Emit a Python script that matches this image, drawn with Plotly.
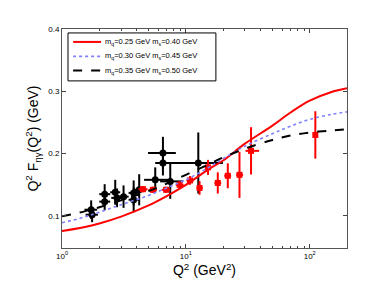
import plotly.graph_objects as go

# Model curves
curve_x = [1, 1.5, 2, 3, 5, 7, 10, 15, 20, 30, 50, 70, 100, 150, 200]
red_curve = [0.076, 0.082, 0.088, 0.099, 0.117, 0.132, 0.150, 0.174, 0.189, 0.216, 0.245, 0.266, 0.285, 0.299, 0.305]
blue_curve = [0.089, 0.098, 0.106, 0.118, 0.133, 0.145, 0.158, 0.177, 0.192, 0.212, 0.232, 0.244, 0.255, 0.263, 0.267]
black_curve = [0.0995, 0.107, 0.114, 0.125, 0.140, 0.152, 0.166, 0.182, 0.194, 0.208, 0.222, 0.229, 0.234, 0.237, 0.239]

legend_names = [
    "m<sub>q</sub>=0.25 GeV m<sub>s</sub>=0.40 GeV",
    "m<sub>q</sub>=0.30 GeV m<sub>s</sub>=0.45 GeV",
    "m<sub>q</sub>=0.35 GeV m<sub>s</sub>=0.50 GeV",
]

# Black data points
blk_x = [1.72, 1.75, 2.21, 2.21, 2.69, 2.78, 3.14, 3.79, 3.79, 4.2, 5.66, 6.53, 6.53, 7.48, 12.6]
blk_y = [0.110, 0.102, 0.135, 0.123, 0.138, 0.129, 0.131, 0.137, 0.126, 0.142, 0.158, 0.201, 0.185, 0.1555, 0.185]
blk_yerr = [0.015, 0.012, 0.016, 0.014, 0.020, 0.015, 0.018, 0.020, 0.020, 0.025, 0.020, 0.026, 0.020, 0.028, 0.049]
blk_xlo = [1.52, 1.55, 2.0, 2.0, 2.45, 2.5, 2.9, 3.45, 3.45, 3.8, 4.6, 4.95, 5.8, 6.2, 5.66]
blk_xhi = [1.92, 1.95, 2.45, 2.45, 2.95, 3.05, 3.45, 4.2, 4.2, 4.8, 7.2, 8.3, 7.4, 9.5, 19.9]

# Red data points
red_x = [4.5, 5.42, 6.93, 8.9, 10.8, 12.9, 15.1, 18.1, 21.8, 27.1, 33.6, 111]
red_y = [0.143, 0.142, 0.142, 0.150, 0.157, 0.145, 0.178, 0.153, 0.1645, 0.166, 0.2045, 0.230]
red_yerr = [0.005, 0.005, 0.005, 0.006, 0.007, 0.011, 0.012, 0.017, 0.020, 0.037, 0.038, 0.038]
red_xlo = [4.15, 5.0, 6.4, 8.3, 10.1, 12.2, 14.2, 17.0, 20.4, 25.5, 30.3, 109]
red_xhi = [4.9, 5.85, 7.5, 9.6, 11.6, 13.7, 16.1, 19.3, 23.2, 29.0, 39.0, 113]

curve_styles = [
    dict(color="#ff0000", width=2, dash="solid"),
    dict(color="#7f7fff", width=1.6, dash="dot"),
    dict(color="black", width=2, dash="dash"),
]
curve_vals = [red_curve, blue_curve, black_curve]

fig = go.Figure()

fig.add_trace(go.Scatter(
    x=blk_x, y=blk_y, mode="markers", showlegend=False,
    marker=dict(color="black", size=7, symbol="circle"),
    error_y=dict(type="data", array=blk_yerr, color="black", thickness=2, width=0),
    error_x=dict(type="data", symmetric=False,
                 array=[h - x for h, x in zip(blk_xhi, blk_x)],
                 arrayminus=[x - l for l, x in zip(blk_xlo, blk_x)],
                 color="black", thickness=2, width=0),
))

fig.add_trace(go.Scatter(
    x=red_x, y=red_y, mode="markers", showlegend=False,
    marker=dict(color="#ff0000", size=6, symbol="square"),
    error_y=dict(type="data", array=red_yerr, color="#ff0000", thickness=2, width=0),
    error_x=dict(type="data", symmetric=False,
                 array=[h - x for h, x in zip(red_xhi, red_x)],
                 arrayminus=[x - l for l, x in zip(red_xlo, red_x)],
                 color="#ff0000", thickness=2, width=0),
))

for name, vals, st in zip(legend_names, curve_vals, curve_styles):
    fig.add_trace(go.Scatter(x=curve_x, y=vals, mode="lines", name=name, showlegend=False,
                             line=dict(color=st["color"], width=st["width"], dash=st["dash"], shape="spline")))

# Manual legend box (Matlab style)
shapes = [dict(type="rect", xref="paper", yref="paper", x0=0.021, x1=0.540, y0=0.763, y1=0.982,
               line=dict(color="black", width=1), fillcolor="white", layer="above")]
annotations = []
entry_y = [0.941, 0.875, 0.810]
for name, st, yy in zip(legend_names, curve_styles, entry_y):
    shapes.append(dict(type="line", xref="paper", yref="paper", x0=0.039, x1=0.137, y0=yy, y1=yy,
                       line=dict(color=st["color"], width=st["width"], dash=st["dash"]), layer="above"))
    annotations.append(dict(xref="paper", yref="paper", x=0.144, y=yy, text=name, showarrow=False,
                            xanchor="left", yanchor="middle", font=dict(size=7.5)))

minor_vals = [m * 10 ** e for e in range(0, 3) for m in range(2, 10) if m * 10 ** e <= 200]

fig.update_layout(
    width=374, height=281,
    margin=dict(l=54, r=35, t=21, b=41),
    paper_bgcolor="white", plot_bgcolor="white",
    font=dict(family="Liberation Sans, Arial, sans-serif", color="black", size=8),
    showlegend=False,
    shapes=shapes, annotations=annotations,
    xaxis=dict(type="log", range=[0, 2.301],
               tickvals=[1, 10, 100],
               ticktext=["10<sup>0</sup>", "10<sup>1</sup>", "10<sup>2</sup>"],
               ticks="inside", ticklen=4, tickcolor="#444", mirror="ticks",
               showline=True, linecolor="#555", linewidth=1, showgrid=False,
               zeroline=False, tickfont=dict(size=8),
               minor=dict(tickvals=minor_vals, ticks="inside", ticklen=2, tickcolor="#444", showgrid=False),
               title=dict(text="Q<sup>2</sup> (GeV<sup>2</sup>)", font=dict(size=14), standoff=4)),
    yaxis=dict(range=[0.0486, 0.4], tickvals=[0.1, 0.2, 0.3, 0.4],
               ticktext=["0.1", "0.2", "0.3", "0.4"],
               ticks="inside", ticklen=4, tickcolor="#444", mirror="ticks",
               showline=True, linecolor="#555", linewidth=1, showgrid=False,
               zeroline=False, tickfont=dict(size=8),
               title=dict(text="Q<sup>2</sup> F<sub>ηγ</sub>(Q<sup>2</sup>) (GeV)", font=dict(size=14), standoff=6)),
)

fig.write_html("out.html")
